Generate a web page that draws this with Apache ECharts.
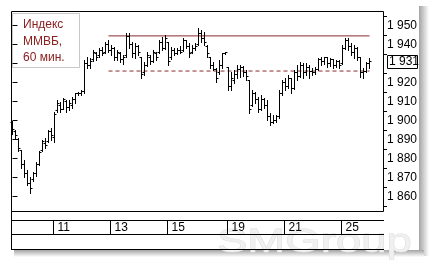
<!DOCTYPE html>
<html><head><meta charset="utf-8">
<script src="https://cdn.jsdelivr.net/npm/echarts@6/dist/echarts.min.js"></script>
<style>html,body{margin:0;padding:0;background:#fff}#c{width:431px;height:262px}</style>
</head><body><div id="c"></div>
<script>
const opens = [1899,1894,1890,1884,1877,1872,1867,1869,1872,1877,1884,1888,1889,1894,1891,1905,1908,1906,1910,1907,
1908,1911,1914,1914,1915,1930,1929,1932,1935,1934,1937,1936,1940,1937,1938,1933,1935,1932,1934,1944,
1940,1935,1939,1933,1925,1929,1933,1931,1935,1936,1941,1938,1941,1933,1937,1935,1937,1937,1942,1939,
1936,1938,1940,1946,1943,1939,1933,1929,1927,1925,1929,1935,1928,1918,1921,1924,1927,1928,1925,1921,
1908,1914,1911,1906,1911,1908,1902,1899,1900,1902,1914,1920,1918,1922,1917,1925,1923,1929,1925,1928,
1926,1925,1927,1932,1931,1933,1930,1932,1929,1931,1930,1938,1942,1939,1936,1938,1933,1925,1926,1930];
const highs = [1899.5,1895,1891,1884.5,1879,1874,1870,1873,1878,1884,1889.7,1891,1895,1896,1904.5,1910.8,1909.7,1911.8,1910.8,1910.8,
1912.4,1914.5,1915,1916,1931.8,1933.4,1932.9,1937,1936,1938,1938.7,1941.3,1942.4,1939.7,1938.5,1937,1936,1934.5,1946,1946,
1941.3,1940.8,1939.7,1933.5,1930.8,1936,1934.5,1937,1936,1942.4,1944,1945,1941.3,1938.7,1938,1938,1939,1943.4,1942.4,1940.8,
1939.7,1940.8,1948.7,1947.6,1946.6,1939.5,1933.5,1930.8,1927.6,1931.8,1935.5,1936,1928,1925.5,1926.6,1929.2,1929.2,1928.7,1926.6,1921.3,
1916,1915,1912.4,1913.4,1911.8,1910.8,1904,1902.9,1902.9,1916,1921.3,1922.4,1923.9,1922.5,1926.6,1929.2,1930.8,1930.3,1930.3,1929.2,
1927.6,1928,1932.9,1933.4,1933.4,1933.5,1932.9,1932.5,1931.8,1931.8,1939.7,1943.4,1943.4,1940.8,1939.7,1938.5,1933.4,1927.6,1930.8,1932.9];
const lows = [1893,1891,1884,1875,1870,1866,1862,1868,1871,1876.5,1883.7,1885.5,1888.7,1889.7,1888.7,1904.5,1904.5,1905.8,1904.5,1905.5,
1906.6,1909.2,1913.4,1913.4,1914.5,1927.6,1927.6,1931.5,1932,1933.5,1934.5,1935.5,1936,1934.5,1931.8,1932,1930.8,1929.7,1933.5,1938,
1933.4,1932.9,1934.5,1922.4,1923.9,1928.5,1929.7,1930.5,1931.8,1935.5,1937,1937.5,1929.2,1932.5,1934.5,1934.8,1935.5,1936.5,1938,1933.4,
1935.5,1937,1939.7,1941.3,1939.7,1933.4,1927.6,1926.6,1920.2,1924.5,1927.6,1935,1916,1916,1919.7,1922.4,1922.9,1923.4,1921.3,1904,
1907.5,1909.2,1904.5,1905.5,1906.6,1900.3,1897.6,1898.7,1899.2,1901.3,1913.5,1916,1917.1,1914.5,1916.5,1921.3,1922.9,1922.4,1923.9,1922.4,
1923.9,1924.5,1926.5,1929.2,1929.7,1928,1928.7,1927.6,1928,1927.6,1929.5,1937.5,1937,1934.5,1932.9,1931.8,1922.9,1922.4,1925.5,1927.6];
const closes = [1895,1892,1885,1877,1872,1867,1864,1872,1877,1883,1889,1887,1894,1892,1903,1909,1906,1911,1907,1909,
1911,1914,1914,1915,1930,1929,1931,1936,1933,1937,1935,1940,1937,1938,1933,1936,1932,1933,1944,1940,
1935,1939,1936,1924,1929,1934,1931,1936,1933,1941,1938,1943,1931,1937,1935,1937,1936,1942,1939,1935,
1938,1939,1946,1943,1941,1935,1929,1927,1922,1929,1935,1935.5,1918,1922,1924,1927,1928,1925,1923,1906,
1914,1911,1906,1911,1908,1902,1899,1900,1902,1914,1920,1918,1922,1917,1925,1923,1929,1925,1928,1926,
1925,1927,1932,1931,1933,1930,1932,1929,1931,1929,1938,1942,1939,1936,1938,1933,1925,1926,1930,1931];
const dayLabels = ['11','13','15','19','21','25'];
const dayBoundaryIdx = [13.5,32.5,51.5,71.5,90.5,109.5];
const priceLabelValues = [1860,1870,1880,1890,1900,1910,1920,1940,1950];
const priceTickValues = [1860,1870,1880,1890,1900,1910,1920,1930,1940,1950];
const priceMinorTickValues = [1855,1865,1875,1885,1895,1905,1915,1925,1935,1945,1955];
const resistanceLevel = 1944.5;
const supportLevel = 1926;
const levelFromIdx = 32, levelToIdx = 119;
const titleLines = ['Индекс','ММВБ,','60 мин.'];
const watermarkText = 'SMGroup';

const X_MIN = -0.5, X_MAX = 123.833;
const Y_MIN = 1851.8, Y_MAX = 1957.6;
const fmt = v => { const s = String(Math.round(v)); return s.slice(0, s.length-3) + ' ' + s.slice(-3); };
const chart = echarts.init(document.getElementById('c'), null, {renderer:'canvas'});
const ohlc = opens.map((o,i)=>[i,o,highs[i],lows[i],closes[i]]);
const r5 = v => Math.round(v - 0.5) + 0.5;
const lineCol = '#8b2a2a';

chart.setOption({
  animation:false,
  backgroundColor:'#fff',
  grid:[{left:11,right:47,top:11,height:201,show:false},
        {left:11,right:47,top:220,height:14,show:false}],
  xAxis:[{type:'value',gridIndex:0,min:X_MIN,max:X_MAX,show:false},
         {type:'value',gridIndex:1,min:X_MIN,max:X_MAX,show:false}],
  yAxis:[{type:'value',gridIndex:0,position:'right',min:Y_MIN,max:Y_MAX,
          axisLine:{show:false},splitLine:{show:false},
          axisTick:{show:true,length:5,inside:false,customValues:priceTickValues,lineStyle:{color:'#000'}},
          axisLabel:{show:true,margin:3,color:'#000',fontSize:12,fontFamily:'Liberation Sans, Arial',customValues:priceLabelValues,formatter:fmt}},
         {type:'value',gridIndex:0,position:'right',min:Y_MIN,max:Y_MAX,
          axisLine:{show:false},splitLine:{show:false},axisLabel:{show:false},
          axisTick:{show:true,length:3,customValues:priceMinorTickValues,lineStyle:{color:'#000'}}},
         {type:'value',gridIndex:1,min:0,max:1,show:false}],
  series:[
    {type:'custom',xAxisIndex:0,yAxisIndex:0,data:ohlc,encode:{x:0,y:[1,2,3,4]},z:5,
     renderItem(params, api){
       const i = api.value(0);
       const o = api.coord([i, api.value(1)]);
       const h = api.coord([i, api.value(2)]);
       const l = api.coord([i, api.value(3)]);
       const c = api.coord([i, api.value(4)]);
       const x = r5(o[0]);
       const st = {stroke:'#000',lineWidth:1};
       return {type:'group',children:[
         {type:'line',shape:{x1:x,y1:Math.round(h[1]),x2:x,y2:Math.round(l[1])+1},style:st},
         {type:'line',shape:{x1:x-2,y1:r5(o[1]),x2:x,y2:r5(o[1])},style:st},
         {type:'line',shape:{x1:x,y1:r5(c[1]),x2:x+2,y2:r5(c[1])},style:st}
       ]};
     }},
    {type:'line',xAxisIndex:0,yAxisIndex:0,symbol:'none',z:3,silent:true,
     data:[[levelFromIdx,resistanceLevel],[levelToIdx,resistanceLevel]],
     lineStyle:{color:lineCol,width:1}},
    {type:'line',xAxisIndex:0,yAxisIndex:0,symbol:'none',z:3,silent:true,
     data:[[levelFromIdx,supportLevel],[levelToIdx,supportLevel]],
     lineStyle:{color:lineCol,width:1,type:[4,3]}},
    {type:'custom',xAxisIndex:1,yAxisIndex:2,data:dayBoundaryIdx.map((v,k)=>[v,k]),z:5,
     renderItem(params, api){
       const v = api.value(0), k = api.value(1);
       const b = api.coord([v,0]), t = api.coord([v,1]);
       const x = r5(b[0]);
       return {type:'group',children:[
         {type:'line',shape:{x1:x,y1:t[1],x2:x,y2:b[1]},style:{stroke:'#000',lineWidth:1}},
         {type:'text',x:x+4,y:(t[1]+b[1])/2+1,style:{text:dayLabels[k],fill:'#000',fontSize:12,fontFamily:'Liberation Sans, Arial',verticalAlign:'middle',align:'left'}}
       ]};
     }}
  ]
});

const lastY = chart.convertToPixel({yAxisIndex:0}, closes[closes.length-1]);
const ln = (x1,y1,x2,y2,c) => ({type:'line',shape:{x1,y1,x2,y2},style:{stroke:c||'#000',lineWidth:1},silent:true});
chart.setOption({graphic:[
  {type:'rect',shape:{x:419,y:6,width:10,height:250},style:{fill:new echarts.graphic.LinearGradient(0,0,1,0,[{offset:0,color:'#a4a4a4'},{offset:1,color:'#ffffff'}])},silent:true},
  {type:'rect',shape:{x:14,y:250,width:410,height:7},style:{fill:new echarts.graphic.LinearGradient(0,0,0,1,[{offset:0,color:'#a4a4a4'},{offset:1,color:'#ffffff'}])},silent:true},
  {type:'text',x:217,y:243,scaleX:1.38,style:{text:watermarkText,fill:'#f0f0f0',stroke:'#dcdcdc',lineWidth:0.8,fontSize:33,fontFamily:'Liberation Sans, Arial',verticalAlign:'middle'},silent:true},
  {type:'rect',shape:{x:11.5,y:11.5,width:372,height:200},style:{fill:null,stroke:'#000',lineWidth:1},silent:true},
  ln(11.5,211.5,11.5,249.5),
  ln(11,220.5,384,220.5),
  ln(11,234.5,384,234.5),
  ln(11,249.5,384,249.5),
  {type:'rect',shape:{x:12.5,y:13.5,width:67,height:54},style:{fill:'#fff',stroke:'#c8c8c8',lineWidth:1},silent:true},
  {type:'text',x:23,y:25,style:{text:titleLines[0],fill:'#8b2020',fontSize:12,fontFamily:'Liberation Sans, Arial',verticalAlign:'middle'},silent:true},
  {type:'text',x:23,y:41.5,style:{text:titleLines[1],fill:'#8b2020',fontSize:12,fontFamily:'Liberation Sans, Arial',verticalAlign:'middle'},silent:true},
  {type:'text',x:23,y:57.5,style:{text:titleLines[2],fill:'#8b2020',fontSize:12,fontFamily:'Liberation Sans, Arial',verticalAlign:'middle'},silent:true},
  {type:'rect',shape:{x:387.5,y:Math.round(lastY)-6.5,width:30,height:13},style:{fill:'#fff',stroke:'#000',lineWidth:1},silent:true},
  {type:'text',x:389,y:lastY,style:{text:fmt(closes[closes.length-1]),fill:'#000',fontSize:12,fontFamily:'Liberation Sans, Arial',verticalAlign:'middle'},silent:true}
]});
</script></body></html>
